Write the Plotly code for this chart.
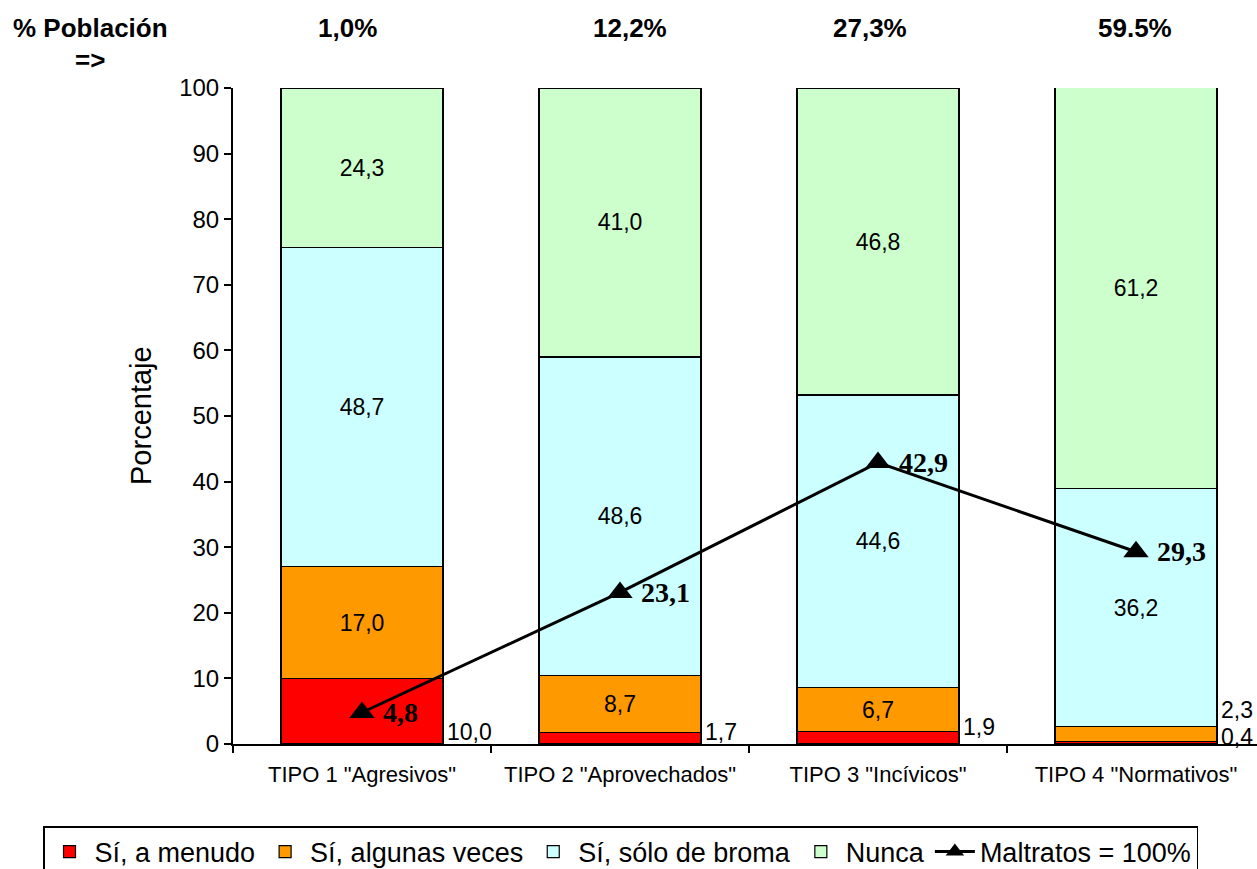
import plotly.graph_objects as go

categories = ['TIPO 1 "Agresivos"', 'TIPO 2 "Aprovechados"', 'TIPO 3 "Incívicos"', 'TIPO 4 "Normativos"']
poblacion = ["1,0%", "12,2%", "27,3%", "59.5%"]
a_menudo = [10.0, 1.7, 1.9, 0.4]
algunas_veces = [17.0, 8.7, 6.7, 2.3]
solo_broma = [48.7, 48.6, 44.6, 36.2]
nunca = [24.3, 41.0, 46.8, 61.2]
maltratos = [4.8, 23.1, 42.9, 29.3]

def fmt(v):
    return f"{v:.1f}".replace(".", ",")

FONT = "Liberation Sans, Arial, sans-serif"
SERIF = "Liberation Serif, Times New Roman, serif"

# labels shown inside bars (small ones are drawn outside as annotations)
inside_menudo = ["" for v in a_menudo]
inside_algunas = ["" if v < 5 else fmt(v) for v in algunas_veces]
inside_broma = [fmt(v) for v in solo_broma]
inside_nunca = [fmt(v) for v in nunca]

fig = go.Figure()
series = [
    ("Sí, a menudo", a_menudo, "#FF0000", inside_menudo),
    ("Sí, algunas veces", algunas_veces, "#FF9900", inside_algunas),
    ("Sí, sólo de broma", solo_broma, "#CCFFFF", inside_broma),
    ("Nunca", nunca, "#CCFFCC", inside_nunca),
]
for name, vals, col, txt in series:
    fig.add_trace(go.Bar(
        x=categories, y=vals, name=name,
        marker=dict(color=col, line=dict(color="black", width=1.2)),
        text=txt, textposition="inside", insidetextanchor="middle",
        textangle=0, constraintext="none",
        textfont=dict(family=FONT, size=23, color="black"),
        hoverinfo="skip",
    ))

fig.add_trace(go.Scatter(
    x=categories, y=maltratos, name="Maltratos = 100%",
    mode="lines+markers",
    line=dict(color="black", width=3),
    marker=dict(symbol="triangle-up", size=22, color="black"),
))

annotations = []
# line value labels
for i, v in enumerate(maltratos):
    annotations.append(dict(
        x=categories[i], y=v, xref="x", yref="y", text=f"<b>{fmt(v)}</b>",
        showarrow=False, xanchor="left", yanchor="middle", xshift=19,
        font=dict(family=SERIF, size=28, color="black"),
    ))
# outside small-value labels
outside = [
    (0, a_menudo[0], 1.8),
    (1, a_menudo[1], 1.8),
    (2, a_menudo[2], 2.6),
    (3, algunas_veces[3], 5.2),
    (3, a_menudo[3], 1.1),
]
for i, v, ypos in outside:
    annotations.append(dict(
        x=i + 0.314, y=ypos, xref="x", yref="y", text=fmt(v),
        showarrow=False, xanchor="left", yanchor="middle", xshift=2,
        font=dict(family=FONT, size=23, color="black"),
    ))

def px_x(px):
    return (px - 233) / 1024.0

def px_y(py):
    return (744 - py) / 656.0

annotations.append(dict(x=px_x(90), y=px_y(28), xref="paper", yref="paper",
                        text="<b>% Población</b>", showarrow=False,
                        xanchor="center", yanchor="middle",
                        font=dict(family=FONT, size=26, color="black")))
annotations.append(dict(x=px_x(90), y=px_y(60), xref="paper", yref="paper",
                        text="<b>=></b>", showarrow=False,
                        xanchor="center", yanchor="middle",
                        font=dict(family=FONT, size=26, color="black")))
for pxc, t in zip([347, 630, 870, 1135], poblacion):
    annotations.append(dict(x=px_x(pxc), y=px_y(28), xref="paper", yref="paper",
                            text=f"<b>{t}</b>", showarrow=False,
                            xanchor="center", yanchor="middle",
                            font=dict(family=FONT, size=26, color="black")))
annotations.append(dict(x=px_x(141), y=0.5, xref="paper", yref="paper",
                        text="Porcentaje", textangle=-90, showarrow=False,
                        xanchor="center", yanchor="middle",
                        font=dict(family=FONT, size=29, color="black")))

fig.update_layout(
    width=1257, height=869,
    margin=dict(l=233, r=0, t=88, b=125, autoexpand=False),
    paper_bgcolor="white", plot_bgcolor="white",
    barmode="stack", bargap=0.372,
    font=dict(family=FONT, color="black"),
    showlegend=True,
    legend=dict(orientation="h",
                x=px_x(43), y=px_y(826), xanchor="left", yanchor="top",
                bordercolor="black", borderwidth=1.5, bgcolor="white",
                traceorder="normal", itemwidth=40,
                font=dict(family=FONT, size=27, color="black")),
    annotations=annotations,
    xaxis=dict(type="category", range=[-0.5, 3.469], tickson="boundaries",
               ticks="outside", ticklen=7, tickcolor="black", tickwidth=1.5,
               showline=True, linecolor="black", linewidth=2,
               showgrid=False, ticklabelstandoff=10, automargin=False,
               tickfont=dict(family=FONT, size=22, color="black")),
    yaxis=dict(range=[0, 100], dtick=10, ticks="outside", ticklen=7,
               tickcolor="black", tickwidth=1.5,
               showline=True, linecolor="black", linewidth=2,
               showgrid=False, zeroline=False, automargin=False,
               tickfont=dict(family=FONT, size=24, color="black")),
)

fig.write_html("out.html", config={"displayModeBar": False},
               post_script="document.body.style.margin='0px';document.body.style.overflow='hidden';")
